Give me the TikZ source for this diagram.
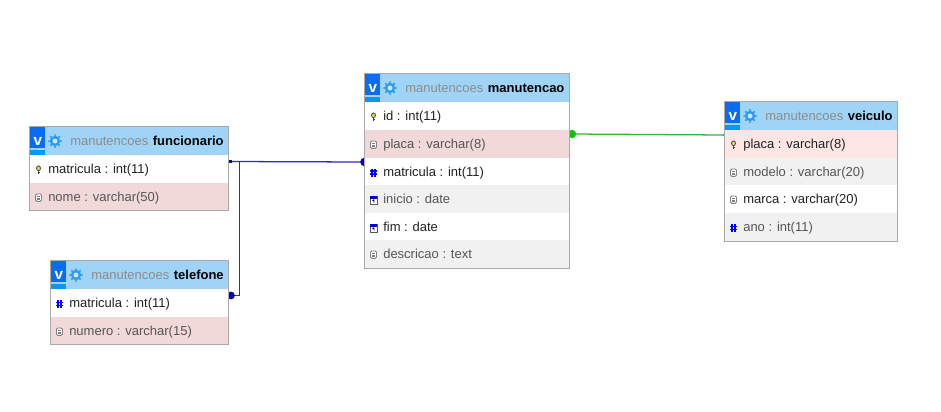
\documentclass[tikz,border=0pt]{standalone}
\usepackage{fontspec}
\usetikzlibrary{backgrounds}
\setmainfont{Liberation Sans}
\definecolor{hdr}{HTML}{9FD4F6}
\definecolor{pink}{HTML}{F0D9D8}
\definecolor{pinkb}{HTML}{FDE6E4}
\definecolor{greyrow}{HTML}{F1F1F1}
\definecolor{frame}{HTML}{A9A9A9}
\definecolor{vblue}{HTML}{0A6CF0}
\definecolor{gearb}{HTML}{2E9BEA}
\definecolor{txt}{HTML}{222222}
\definecolor{txtg}{HTML}{555555}
\definecolor{linkb}{HTML}{2E2ABC}
\definecolor{linkg}{HTML}{35B535}
\definecolor{dotb}{HTML}{0808B0}
\definecolor{dotg}{HTML}{10C010}
\definecolor{keyy}{HTML}{E8D44A}
\tikzset{
  rowbox/.style={anchor=north west,inner sep=0pt,outer sep=0pt,draw=none},
  frmbox/.style={anchor=north west,inner sep=0pt,outer sep=0pt,draw=frame,line width=0.75pt},
  rowtext/.style={anchor=base west,inner sep=0pt,font=\fontsize{9.75pt}{12pt}\selectfont,text=txt},
  rowtextg/.style={rowtext,text=txtg},
  dbname/.style={anchor=base west,inner sep=0pt,font=\fontsize{9.75pt}{12pt}\selectfont,text=black!45},
  tbname/.style={anchor=base west,inner sep=0pt,font=\fontsize{9.75pt}{12pt}\selectfont\bfseries,text=black},
  vmark/.style={anchor=center,inner sep=0pt,font=\fontsize{11.5pt}{12pt}\selectfont\bfseries,text=white},
  link/.style={line width=0.95pt},
}
\newcommand{\ikey}[2]{%
  \draw[black!75,fill=keyy,line width=0.55pt] (#1,#2-1.2) circle [x radius=2,y radius=2.4];
  \draw[black!75,line width=0.9pt] (#1,#2+1) -- (#1,#2+4.4);
  \draw[black!75,line width=0.6pt] (#1,#2+3) -- (#1+1.8,#2+3);
}
\newcommand{\icol}[2]{%
  \draw[black!50,fill=white,line width=0.7pt,rounded corners=1pt] (#1-3,#2-3.5) rectangle (#1+3,#2+3.8);
  \draw[black!50,line width=0.5pt] (#1-1.6,#2-1.2) -- (#1+1.6,#2-1.2) (#1-1.6,#2+0.6) -- (#1+1.6,#2+0.6) (#1-1.6,#2+2.2) -- (#1+1.6,#2+2.2);
}
\newcommand{\inum}[2]{%
  \draw[blue,line width=0.8pt] (#1-1.5,#2-3.5) -- (#1-1.5,#2+4.5) (#1+1.5,#2-3.5) -- (#1+1.5,#2+4.5) (#1-3.5,#2-1) -- (#1+3.5,#2-1) (#1-3.5,#2+2) -- (#1+3.5,#2+2);
}
\newcommand{\idate}[2]{%
  \draw[black!65,fill=white,line width=0.6pt] (#1-3.5,#2-3) rectangle (#1+3.5,#2+4.5);
  \fill[blue!80!black] (#1-3.5,#2-3.5) rectangle (#1+3.5,#2-1);
  \draw[black,line width=0.6pt] (#1+0.4,#2) -- (#1+0.4,#2+3.2) (#1+0.4,#2) -- (#1-1,#2+1.4);
}
\newcommand{\thead}[5]{%
  \node[rowbox,fill=hdr,minimum width=#4*0.75pt,minimum height=29*0.75pt] (#1) at (#2,#3) {};
  \fill[vblue] (#2+1,#3+1) rectangle (#2+16,#3+22);
  \fill[vblue!70!cyan] (#2+1,#3+23.5) rectangle (#2+16,#3+29);
  \node[vmark] (#1v) at (#2+9,#3+15.5) {v};
  \fill[gearb] (#2+26,#3+15) circle (5.2);
  \foreach \a in {0,45,...,315}{\fill[gearb] (#2+26,#3+15) ++(\a:5.9) circle (1.1);}
  \fill[hdr!60!white] (#2+26,#3+15) circle (2.5);
  \node[dbname] (#1d) at (#2+41,#3+19.5) {manutencoes};
  \node[tbname] (#1t) at ([xshift=3pt]#1d.base east) {#5};
}
\newcommand{\trow}[9]{%
  \node[rowbox,fill=#6,minimum width=#4*0.75pt,minimum height=#5*0.75pt] (#1) at (#2,#3) {};
  #7{#2+9.5}{#3+14.5}
  \node[#9] (#1x) at (#2+19,#3+18.5) {#8};
}
\begin{document}
\begin{tikzpicture}[x=0.75pt,y=-0.75pt]
\useasboundingbox (0,0) rectangle (941,411);
\begin{scope}[on background layer]
\fill[white] (0,0) rectangle (941,411);
\end{scope}

% funcionario
\thead{fh}{29}{126}{200}{funcionario}
\trow{fa}{29}{155}{200}{28}{white}{\ikey}{matricula : int(11)}{rowtext}
\trow{fb}{29}{183}{200}{27}{pink}{\icol}{nome : varchar(50)}{rowtextg}
\node[frmbox,minimum width=199*0.75pt,minimum height=84*0.75pt] (fbox) at (29.5,126.5) {};

% telefone
\thead{th}{50}{260}{179}{telefone}
\trow{ta}{50}{289}{179}{28}{white}{\inum}{matricula : int(11)}{rowtext}
\trow{tb}{50}{317}{179}{27}{pink}{\icol}{numero : varchar(15)}{rowtextg}
\node[frmbox,minimum width=178*0.75pt,minimum height=84*0.75pt] (tbox) at (50.5,260.5) {};

% manutencao
\thead{mh}{364}{73}{206}{manutencao}
\trow{ma}{364}{102}{206}{28}{white}{\ikey}{id : int(11)}{rowtext}
\trow{mb}{364}{130}{206}{27.5}{pink}{\icol}{placa : varchar(8)}{rowtextg}
\trow{mc}{364}{157.5}{206}{27.5}{white}{\inum}{matricula : int(11)}{rowtext}
\trow{md}{364}{185}{206}{28}{greyrow}{\idate}{inicio : date}{rowtextg}
\trow{me}{364}{213}{206}{27}{white}{\idate}{fim : date}{rowtext}
\trow{mf}{364}{240}{206}{28.5}{greyrow}{\icol}{descricao : text}{rowtextg}
\node[frmbox,minimum width=205*0.75pt,minimum height=195*0.75pt] (mbox) at (364.5,73.5) {};

% veiculo
\thead{vh}{724}{101}{174}{veiculo}
\trow{va}{724}{130}{174}{28}{pinkb}{\ikey}{placa : varchar(8)}{rowtext}
\trow{vb}{724}{158}{174}{27}{greyrow}{\icol}{modelo : varchar(20)}{rowtextg}
\trow{vc}{724}{185}{174}{28}{white}{\icol}{marca : varchar(20)}{rowtext}
\trow{vd}{724}{213}{174}{28}{greyrow}{\inum}{ano : int(11)}{rowtextg}
\node[frmbox,minimum width=173*0.75pt,minimum height=140*0.75pt] (vbox) at (724.5,101.5) {};

% connectors, anchored on the rows and lying behind the tables
\coordinate (fp) at ([shift={(0,-7.5)}]fa.east);
\coordinate (mp) at ([shift={(0.5,-9.25)}]mc.west);
\coordinate (tp) at ([shift={(2,-7.5)}]ta.east);
\coordinate (mg) at ([shift={(2,-9.75)}]mb.east);
\coordinate (vg) at ([shift={(0,-9)}]va.west);
\coordinate (bend) at ([shift={(10.5,0)}]fp);
\begin{scope}[on background layer]
\draw[link,linkb] (fp) -- (mp);
\draw[link,linkb] (bend) -- (bend|-tp) -- (tp);
\draw[link,linkg] (mg) -- (vg);
\fill[dotb] (tp) circle (3.9);
\fill[dotb] (mp) circle (4.3);
\fill[dotg] (mg) circle (4.2);
\fill[linkg] (vg) circle (1.4);
\fill[dotb] ([shift={(-0.5,-2)}]fp) rectangle ([shift={(3,1.5)}]fp);
\end{scope}
\end{tikzpicture}
\end{document}
